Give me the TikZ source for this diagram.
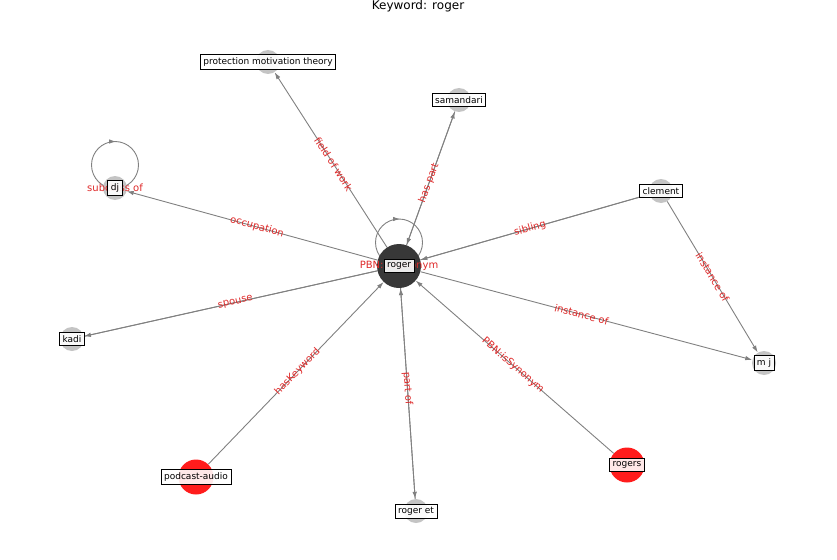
\documentclass[tikz,border=0pt]{standalone}
\usepackage{fontspec}
\setmainfont{DejaVu Sans}
\usetikzlibrary{arrows.meta,calc}
\pgfdeclarelayer{bg}
\pgfsetlayers{bg,main}
\definecolor{edgegray}{RGB}{128,128,128}
\definecolor{nodegray}{RGB}{196,196,196}
\definecolor{nodered}{RGB}{255,28,28}
\definecolor{nodedark}{RGB}{56,56,56}
\definecolor{labred}{RGB}{222,40,40}
\tikzset{
  gnode/.style={circle,fill=nodegray,draw=none,inner sep=0pt,minimum size=24pt},
  rnode/.style={circle,fill=nodered,draw=none,inner sep=0pt,minimum size=35pt},
  dnode/.style={circle,fill=nodedark,draw=none,inner sep=0pt,minimum size=44pt},
  lbox/.style={draw=black,line width=0.8pt,fill=white,fill opacity=0.9,text opacity=1,inner sep=3pt,font=\fontsize{9}{10}\selectfont},
  edge/.style={draw=edgegray,line width=0.9pt},
  arr/.style={edge,-{Latex[length=7pt,width=4.5pt]}},
  elab/.style={text=labred,font=\fontsize{10}{11}\selectfont,sloped,inner sep=0pt}
}
\begin{document}
\begin{tikzpicture}[x=1pt,y=-1pt]
\useasboundingbox (0,0) rectangle (837,559);
\node[font=\fontsize{12}{13}\selectfont] (title) at (418,6) {Keyword: roger};
% nodes
\node[dnode] (roger) at (399,266) {};
\node[gnode] (pmt) at (268,62) {};
\node[gnode] (sam) at (459,100) {};
\node[gnode] (cle) at (661,191) {};
\node[gnode] (dj) at (115,188) {};
\node[gnode] (kadi) at (72,339) {};
\node[gnode] (mj) at (764,363) {};
\node[rnode] (pod) at (196,477) {};
\node[rnode] (rogers) at (627,465) {};
\node[gnode] (ret) at (416,511) {};
\begin{pgfonlayer}{bg}
\draw[arr] (roger) -- (pmt);
\draw[arr] (roger) -- (sam);
\draw[arr] (sam) -- (roger);
\draw[arr] (cle) -- (roger);
\draw[edge] (roger) -- (cle);
\draw[arr] (roger) -- (dj);
\draw[arr] (roger) -- (kadi);
\draw[edge] (kadi) -- (roger);
\draw[arr] (roger) -- (mj);
\draw[arr] (cle) -- (mj);
\draw[arr] (pod) -- (roger);
\draw[arr] (rogers) -- (roger);
\draw[arr] (roger) -- (ret);
\draw[arr] (ret) -- (roger);
% self loops
\draw[edge] ($(roger.center)+(0,-23.5)$) circle (23.5);
\draw[edge] ($(dj.center)+(0,-23)$) circle (23.5);
\end{pgfonlayer}
\draw[arr] ($(roger.center)+(-6,-47)$) -- ($(roger.center)+(1,-47)$);
\draw[arr] ($(dj.center)+(-6,-46.5)$) -- ($(dj.center)+(1,-46.5)$);
% edge labels
\path (roger.center) -- (pmt.center) node[elab,midway] {field of work};
\path (roger.center) -- (sam.center) node[elab,midway] {has part};
\path (roger.center) -- (cle.center) node[elab,midway] {sibling};
\path (roger.center) -- (dj.center) node[elab,midway] {occupation};
\path (roger.center) -- (kadi.center) node[elab,midway] {spouse};
\path (roger.center) -- (mj.center) node[elab,midway] {instance of};
\path (cle.center) -- (mj.center) node[elab,midway] {instance of};
\path (pod.center) -- (roger.center) node[elab,midway] {hasKeyword};
\path (rogers.center) -- (roger.center) node[elab,midway] {PBN:isSynonym};
\path (roger.center) -- (ret.center) node[elab,midway] {part of};
\node[elab] (l1) at (roger.center) {PBN:isSynonym};
\node[elab] (l2) at (dj.center) {subclass of};
% label boxes
\node[lbox] (troger) at (roger.center) {roger};
\node[lbox] (tpmt) at (pmt.center) {protection motivation theory};
\node[lbox] (tsam) at (sam.center) {samandari};
\node[lbox] (tcle) at (cle.center) {clement};
\node[lbox] (tdj) at (dj.center) {dj};
\node[lbox] (tkadi) at (kadi.center) {kadi};
\node[lbox] (tmj) at (mj.center) {m j};
\node[lbox] (tpod) at (pod.center) {podcast-audio};
\node[lbox] (trogers) at (rogers.center) {rogers};
\node[lbox] (tret) at (ret.center) {roger et};
\end{tikzpicture}
\end{document}
